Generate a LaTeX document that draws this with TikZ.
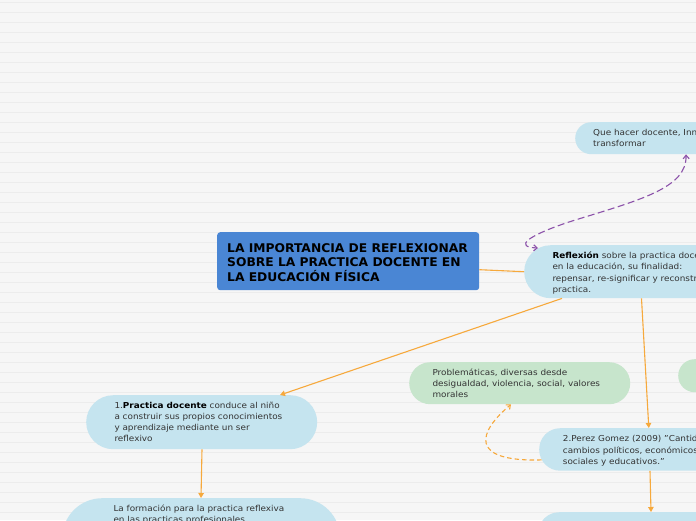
\documentclass[tikz,border=0pt]{standalone}
\usepackage{fontspec}
\setmainfont{DejaVu Sans}[FakeStretch=1.08]
\newfontfamily\titlefont{DejaVu Sans}[FakeStretch=1.025]
\usetikzlibrary{arrows.meta,calc}
\definecolor{bgc}{HTML}{F6F6F6}
\definecolor{gridc}{HTML}{ECECEC}
\definecolor{titleblue}{RGB}{74,134,212}
\definecolor{lightblue}{RGB}{197,228,239}
\definecolor{lightgreen}{RGB}{199,229,204}
\definecolor{linkorange}{RGB}{246,169,60}
\definecolor{linkpurple}{RGB}{140,82,170}
\definecolor{bodytext}{HTML}{333333}
\tikzset{
  gridline/.style={draw=gridc, line width=0.7pt},
  boxshape/.style={anchor=north west, inner sep=0pt, draw=none, rectangle},
  titlebox/.style={boxshape, fill=titleblue, rounded corners=3pt},
  bluebox/.style={boxshape, fill=lightblue},
  greenbox/.style={boxshape, fill=lightgreen},
  bodytxt/.style={anchor=north west, inner sep=0pt, align=left, text=bodytext,
    font=\fontsize{8.2}{11}\selectfont},
  titletxt/.style={anchor=north west, inner sep=0pt, align=left, text=black,
    font=\titlefont\fontsize{12}{14.7}\selectfont\bfseries},
  link/.style={draw=linkorange, line width=1.1pt},
  linkarrow/.style={link, -{Triangle[length=5pt,width=5.5pt]}},
  dashlink/.style={link, dash pattern=on 4.5pt off 3pt, -{Straight Barb[length=3.5pt,width=6pt]}},
  purplelink/.style={draw=linkpurple, line width=1.1pt, dash pattern=on 7pt off 3.5pt,
    {Straight Barb[length=3.5pt,width=6pt]}-{Straight Barb[length=3.5pt,width=6pt]}},
}
\begin{document}
\begin{tikzpicture}[x=1pt,y=-1pt]
\useasboundingbox (0,0) rectangle (696,520);
\clip (0,0) rectangle (696,520);
\fill[bgc] (0,0) rectangle (696,520);
\foreach \k in {0,...,51} \draw[gridline] (0,{2.5+10*\k}) -- (696,{2.5+10*\k});

% boxes
\node[titlebox, minimum width=262pt, minimum height=58pt] (title) at (217,232) {};
\node[bluebox, minimum width=200pt, minimum height=32pt, rounded corners=16pt] (que) at (575,122) {};
\node[bluebox, minimum width=300pt, minimum height=53pt, rounded corners=26.5pt] (refl) at (524,245) {};
\node[greenbox, minimum width=221pt, minimum height=42pt, rounded corners=21pt] (prob) at (409,362) {};
\node[greenbox, minimum width=100pt, minimum height=33pt, rounded corners=16.5pt] (green2) at (678,359) {};
\node[bluebox, minimum width=231pt, minimum height=54pt, rounded corners=27pt] (prac) at (86,395) {};
\node[bluebox, minimum width=300pt, minimum height=42.5pt, rounded corners=21pt] (perez) at (539,428) {};
\node[bluebox, minimum width=278pt, minimum height=90pt, rounded corners=40pt] (form) at (62,498) {};
\node[bluebox, minimum width=300pt, minimum height=50pt, rounded corners=21pt] (br) at (538,512) {};

% texts
\node[titletxt] (ttitle) at (227,243) {LA IMPORTANCIA DE REFLEXIONAR\\SOBRE LA PRACTICA DOCENTE EN\\LA EDUCACIÓN FÍSICA};
\node[bodytxt, font=\fontsize{8.2}{11.6}\selectfont] (tque) at (593,128.8) {Que hacer docente, Innovar y\\transformar};
\node[bodytxt, font=\fontsize{8.2}{11.3}\selectfont] (trefl) at (552.3,251.7) {\textcolor{black}{\textbf{Reflexión}} sobre la practica docente\\en la educación, su finalidad:\\repensar, re-significar y reconstruir la\\practica.};
\node[bodytxt] (tprob) at (432.3,369.1) {Problemáticas, diversas desde\\desigualdad, violencia, social, valores\\morales};
\node[bodytxt, font=\fontsize{8.2}{10.9}\selectfont] (tprac) at (114.3,402.1) {1.\textcolor{black}{\textbf{Practica docente}} conduce al niño\\a construir sus propios conocimientos\\y aprendizaje mediante un ser\\reflexivo};
\node[bodytxt, font=\fontsize{8.2}{11.2}\selectfont] (tperez) at (562.7,435.5) {2.Perez Gomez (2009) "Cantidad de\\cambios políticos, económicos,\\sociales y educativos."};
\node[bodytxt] (tform) at (113.3,505.1) {La formación para la practica reflexiva\\en las practicas profesionales};

% connectors
\draw[link] ([yshift=-8.5pt]title.east) -- (refl.west);
\draw[linkarrow] ($(refl.south west)+(38,0)$) -- ($(prac.north west)+(194,0)$);
\draw[linkarrow] ($(refl.south west)+(117.5,0)$) -- ($(perez.north west)+(109.8,0)$);
\draw[linkarrow] ($(prac.south west)+(116,0)$) -- ($(form.north west)+(139,0)$);
\draw[linkarrow] ($(perez.south west)+(111,0)$) -- ($(br.north west)+(113,0)$);
\draw[dashlink] ($(perez.south west)+(2.5,-11)$) .. controls (468,462) and (478,432) .. ($(prob.south west)+(102,0)$);
\draw[purplelink] ($(que.south west)+(111,0)$) .. controls (687,188) and (640,200) .. (572,221) .. controls (526,236) and (514,247) .. ($(refl.north west)+(14,3)$);
\end{tikzpicture}
\end{document}
